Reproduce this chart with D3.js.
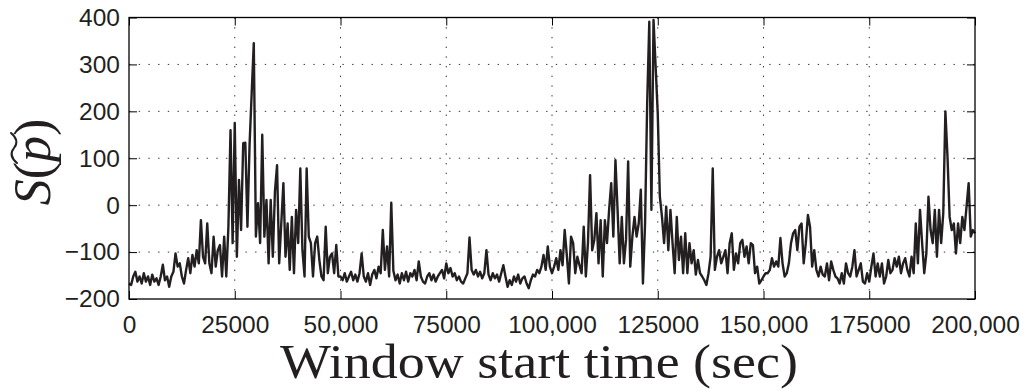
<!DOCTYPE html>
<html>
<head>
<meta charset="utf-8">
<script src="https://cdn.jsdelivr.net/npm/d3@7"></script>
<style>
    body { margin: 0; background: #fff; }
</style>
</head>
<body>
<div id="chart"></div>
<script>
// one score per window, windows start every 500 s
const windowStep = 500;

// 0 - 49,500 s
const scoreA = [
    -167, -170, -152, -142, -163, -152, -167, -145, -163, -152,
    -170, -148, -163, -156, -170, -152, -127, -160, -152, -174,
    -152, -142, -103, -131, -124, -152, -167, -138, -113, -145,
    -106, -131, -96, -124, -32, -110, -124, -39, -124, -145,
    -67, -131, -96, -85, -152, -67, -152, -46, 160, -81,
    175, -110, 54, -53, 132, 133, -46, 128, 238, 345,
    -67, 4, -81, 150, -67, 11, -124, 11, -110, 29,
    85, -124, -39, 47, -110, -39, -138, -25, -145, -10,
    -81, 78, -96, -152, 78, -67, -81, -152, -81, -67,
    -117, -152, -160, -46, -145, -110, -103, -145, -85, -152
];

// 50,000 - 99,500 s
const scoreB = [
    -152, -160, -145, -163, -152, -142, -160, -148, -163, -145,
    -103, -152, -163, -145, -170, -148, -138, -156, -131, -145,
    -53, -138, -88, -152, 5, -140, -160, -148, -167, -145,
    -160, -142, -163, -145, -152, -138, -160, -120, -152, -163,
    -167, -152, -145, -160, -148, -163, -152, -145, -138, -156,
    -124, -145, -134, -152, -145, -160, -152, -163, -167, -156,
    -145, -69, -138, -148, -138, -152, -142, -156, -145, -96,
    -148, -160, -145, -156, -148, -163, -145, -128, -152, -174,
    -160, -170, -152, -163, -148, -167, -156, -152, -167, -177,
    -160, -148, -152, -138, -145, -131, -106, -138, -88, -131
];

// 100,000 - 147,000 s
const scoreC = [
    -145, -131, -113, -138, -96, -128, -53, -106, -167, -67,
    -81, -145, -110, -128, -145, -46, -152, -81, 64, -96,
    -74, -17, -124, -32, -152, -32, -81, -10, 47, -67,
    96, -10, -124, -25, -124, -74, 93, -131, -67, -25,
    -67, -39, 33, -167, -39, 217, 391, -10, 395, 295,
    195, 18, -25, -81, -3, -96, -10, -81, -145, -25,
    -117, -67, -145, -60, -145, -81, -124, -96, -148, -117,
    -145, -152, -160, -170, -145, -110, 78, -138, -110, -96,
    -124, -110, -96, -145, -81, -60, -138, -103, -124, -81,
    -74, -110, -88, -124, -81
];

// 147,500 - 200,000 s
const scoreD = [
    -85, -145, -131, -167, -160,
    -152, -145, -145, -138, -113, -131, -120, -131, -70, -124,
    -152, -145, -124, -81, -60, -53, -96, -46, -39, -124,
    -81, -21, -46, -131, -96, -138, -152, -131, -148, -152,
    -124, -160, -120, -138, -152, -156, -167, -145, -167, -124,
    -145, -152, -131, -96, -152, -138, -124, -163, -167, -145,
    -163, -131, -103, -152, -124, -152, -124, -167, -152, -117,
    -145, -138, -113, -131, -110, -145, -124, -113, -138, -152,
    -110, -145, -39, -124, -10, -81, -145, -103, 18, -53,
    -81, -10, -110, -10, -81, -17, 200, 103, -25, -53,
    -39, -103, -39, -81, -25, -53, -3, 47, -67, -53, -60
];

const xTickValues = [0, 25000, 50000, 75000, 100000, 125000, 150000, 175000, 200000];
const xTickLabels = ['0', '25000', '50,000', '75000', '100,000', '125000', '150,000', '175000', '200,000'];
const yTickValues = [-200, -100, 0, 100, 200, 300, 400];
const yTickLabels = ['\u2212200', '\u2212100', '0', '100', '200', '300', '400'];

const scores = scoreA.concat(scoreB, scoreC, scoreD);
const series = scores.map((s, i) => ({ t: i * windowStep, s: s }));

const width = 1025;
const height = 389;
const plot = { left: 129, right: 975, top: 17.5, bottom: 299 };
const ink = '#231f20';

const svg = d3.select('#chart')
    .append('svg')
    .attr('width', width)
    .attr('height', height);

svg.append('rect')
    .attr('width', width)
    .attr('height', height)
    .attr('fill', '#fff');

const x = d3.scaleLinear()
    .domain([0, 200000])
    .range([plot.left, plot.right]);

const y = d3.scaleLinear()
    .domain([-200, 400])
    .range([plot.bottom, plot.top]);

// dotted grid
const grid = svg.append('g')
    .attr('stroke', '#333')
    .attr('stroke-width', 1)
    .attr('stroke-dasharray', '1.4,8.3');

grid.selectAll('.gx')
    .data(xTickValues.slice(1, -1))
    .enter()
    .append('line')
    .attr('x1', d => x(d))
    .attr('x2', d => x(d))
    .attr('y1', plot.top)
    .attr('y2', plot.bottom);

grid.selectAll('.gy')
    .data(yTickValues.slice(1, -1))
    .enter()
    .append('line')
    .attr('x1', plot.left)
    .attr('x2', plot.right)
    .attr('y1', d => y(d))
    .attr('y2', d => y(d));

// data line
const line = d3.line()
    .x(d => x(d.t))
    .y(d => y(d.s));

svg.append('path')
    .datum(series)
    .attr('d', line)
    .attr('fill', 'none')
    .attr('stroke', ink)
    .attr('stroke-width', 2.4)
    .attr('stroke-linejoin', 'round');

// axes, ticks pointing inwards on all four sides
const xAxis = svg.append('g')
    .attr('transform', `translate(0, ${plot.bottom})`)
    .call(d3.axisBottom(x)
        .tickValues(xTickValues)
        .tickFormat((d, i) => xTickLabels[i])
        .tickSize(-8)
        .tickPadding(17));

const yAxis = svg.append('g')
    .attr('transform', `translate(${plot.left}, 0)`)
    .call(d3.axisLeft(y)
        .tickValues(yTickValues)
        .tickFormat((d, i) => yTickLabels[i])
        .tickSize(-8)
        .tickPadding(9));

svg.append('g')
    .attr('transform', `translate(0, ${plot.top})`)
    .call(d3.axisTop(x).tickValues(xTickValues).tickFormat('').tickSize(-8));

svg.append('g')
    .attr('transform', `translate(${plot.right}, 0)`)
    .call(d3.axisRight(y).tickValues(yTickValues).tickFormat('').tickSize(-8));

svg.selectAll('.domain').remove();
svg.selectAll('.tick line')
    .attr('stroke', '#000')
    .attr('stroke-width', 1);

[xAxis, yAxis].forEach(ax => {
    ax.attr('font-family', null)
        .attr('font-size', null);
    ax.selectAll('text')
        .attr('font-family', '"Liberation Sans", Arial, sans-serif')
        .attr('font-size', 24.5)
        .attr('fill', ink);
});

svg.append('rect')
    .attr('x', plot.left)
    .attr('y', plot.top)
    .attr('width', plot.right - plot.left)
    .attr('height', plot.bottom - plot.top)
    .attr('fill', 'none')
    .attr('stroke', '#000')
    .attr('stroke-width', 1.3);

// x label
svg.append('text')
    .attr('x', 539)
    .attr('y', 378)
    .attr('text-anchor', 'middle')
    .attr('font-family', '"Liberation Serif", "Times New Roman", serif')
    .attr('font-size', 48)
    .attr('textLength', 518)
    .attr('lengthAdjust', 'spacingAndGlyphs')
    .attr('fill', ink)
    .text('Window start time (sec)');

// y label: S(p~)
const yLabel = svg.append('g')
    .attr('transform', 'translate(50, 162) rotate(-90)');

const yText = yLabel.append('text')
    .attr('text-anchor', 'middle')
    .attr('font-family', '"Liberation Serif", "Times New Roman", serif')
    .attr('font-size', 52)
    .attr('fill', ink);

yText.append('tspan').attr('font-style', 'italic').text('S');
yText.append('tspan').text('(');
yText.append('tspan').attr('font-style', 'italic').text('p');
yText.append('tspan').text(')');

const pStart = yText.node().getStartPositionOfChar(2).x;
const pEnd = yText.node().getEndPositionOfChar(2).x;
const tx0 = pStart - 1;
const tw = pEnd - pStart + 4;
const ty = -36;

yLabel.append('path')
    .attr('d', `M${tx0},${ty + 3} Q${tx0 + tw * 0.25},${ty - 6} ${tx0 + tw * 0.5},${ty} Q${tx0 + tw * 0.75},${ty + 6} ${tx0 + tw},${ty - 3}`)
    .attr('fill', 'none')
    .attr('stroke', ink)
    .attr('stroke-width', 2)
    .attr('stroke-linecap', 'round');
</script>
</body>
</html>
